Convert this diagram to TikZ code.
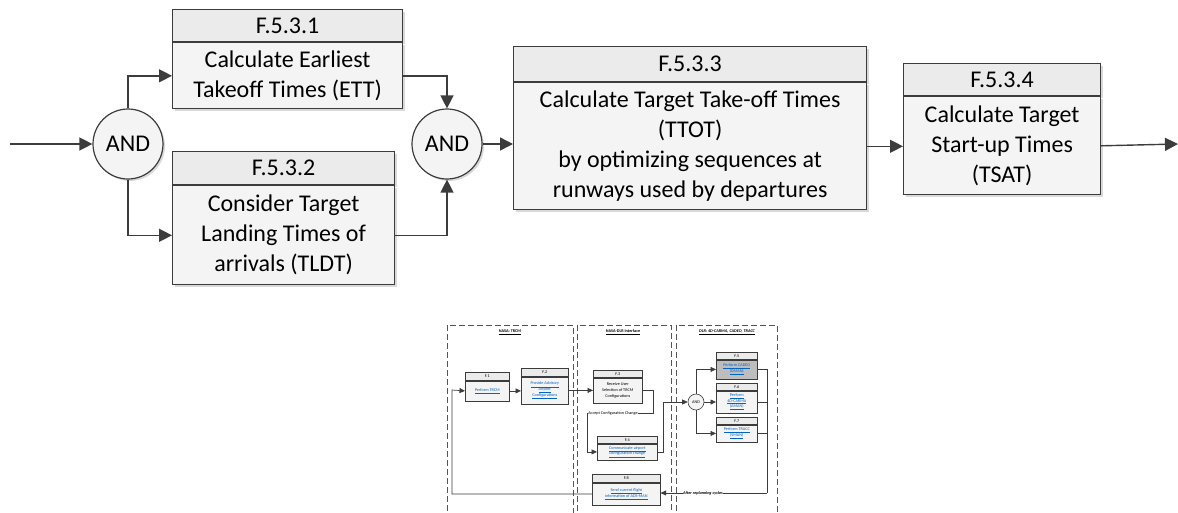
\documentclass[tikz,border=0pt]{standalone}
\usepackage{fontspec}
\setmainfont{Carlito}
\usetikzlibrary{arrows.meta,shadows,calc}
\definecolor{ln}{HTML}{3C3C3C}
\definecolor{hdrfill}{HTML}{EBEBEB}
\definecolor{bodyfill}{HTML}{F4F4F4}
\definecolor{grayfill}{HTML}{BDBDBD}
\definecolor{lnk}{HTML}{0563C1}
\definecolor{lane}{HTML}{555555}
\newcommand\ulk[1]{\underline{#1}}
\tikzset{
  x=1pt, y=-1pt,
  shd/.style={drop shadow={shadow xshift=2pt,shadow yshift=-2pt,opacity=0.3}},
  hdr/.style={draw=ln, line width=1.2pt, fill=hdrfill, anchor=north west, inner sep=0pt,
    font=\fontsize{24}{30}\selectfont, shd},
  bodybox/.style={draw=ln, line width=1.2pt, fill=bodyfill, anchor=north, inner sep=0pt,
    align=center, font=\fontsize{24}{30}\selectfont, shd},
  gate/.style={circle, draw=ln, line width=1.2pt, fill=bodyfill, minimum size=70pt, inner sep=0pt,
    font=\fontsize{24}{30}\selectfont, shd},
  conn/.style={draw=ln, line width=1.4pt, -{Triangle[length=13pt,width=13pt]}},
  shdr/.style={draw=ln, line width=0.6pt, fill=hdrfill, anchor=north west, inner sep=0pt,
    font=\fontsize{4.2}{5}\selectfont},
  sbody/.style={draw=ln, line width=0.6pt, fill=bodyfill, anchor=north, inner sep=0pt,
    align=center, font=\fontsize{4.2}{5.6}\selectfont, text=lnk},
  sgate/.style={circle, draw=ln, line width=0.6pt, fill=bodyfill, minimum size=16pt, inner sep=0pt,
    font=\fontsize{4.2}{5}\selectfont},
  sconn/.style={draw=ln, line width=0.7pt, -{Triangle[length=5.5pt,width=5pt]}},
  sline/.style={draw=ln, line width=0.7pt},
  lanebox/.style={draw=lane, line width=0.8pt, dash pattern=on 6pt off 3pt},
  lanetitle/.style={font=\fontsize{4.2}{5}\selectfont\bfseries, inner sep=0.5pt},
  slabel/.style={fill=white, inner sep=0.6pt, font=\fontsize{4.2}{5}\selectfont},
}
\begin{document}
\begin{tikzpicture}
\useasboundingbox (0,0) rectangle (1178,512);

% ---------------- top diagram ----------------
\coordinate (in) at (10,144);
\coordinate (out) at (1178,144);
\node[gate] (and1) at (128,144) {AND};
\node[gate] (and2) at (447,144) {AND};

\node[hdr, minimum width=230pt, minimum height=32pt] (b1h) at (172,9) {F.5.3.1};
\node[bodybox, minimum width=230pt, minimum height=66pt] (b1) at (b1h.south) {Calculate Earliest\\Takeoff Times (ETT)};

\node[hdr, minimum width=222pt, minimum height=33pt] (b2h) at (172,151) {F.5.3.2};
\node[bodybox, minimum width=222pt, minimum height=99pt] (b2) at (b2h.south) {Consider Target\\Landing Times of\\arrivals (TLDT)};

\node[hdr, minimum width=353pt, minimum height=35pt] (b3h) at (513,46) {F.5.3.3};
\node[bodybox, minimum width=353pt, minimum height=127pt] (b3) at (b3h.south) {Calculate Target Take-off Times\\(TTOT)\\by optimizing sequences at\\runways used by departures};

\node[hdr, minimum width=197pt, minimum height=32pt] (b4h) at (903,63) {F.5.3.4};
\node[bodybox, minimum width=197pt, minimum height=98pt] (b4) at (b4h.south) {Calculate Target\\Start-up Times\\(TSAT)};

\draw[conn] (in) -- (and1.west);
\draw[conn] (and1.north) |- (b1.west);
\draw[conn] (and1.south) |- (b2.west);
\draw[conn] (b1.east) -| (and2.north);
\draw[conn] (b2.east) -| (and2.south);
\draw[conn] (and2.east) -- (and2.east -| b3.west);
\draw[conn] (b3.east) -- (b3.east -| b4.west);
\draw[conn] (b4.east) -- (out);

% ---------------- bottom diagram ----------------
\draw[lanebox] (447,520) -- (447,325) -- (573,325) -- (573,520);
\draw[lanebox] (577,520) -- (577,325) -- (671,325) -- (671,520);
\draw[lanebox] (676,520) -- (676,325) -- (777,325) -- (777,520);
\node[lanetitle] (t1) at (510,332) {\ulk{NASA: TRCM}};
\node[lanetitle] (t2) at (623,332) {\ulk{NASA-DLR Interface}};
\node[lanetitle] (t3) at (727,332) {\itshape\ulk{DLR: 4D-CARMA, CADEO, TRACC}};

\node[shdr, minimum width=44pt, minimum height=8pt] (f1h) at (465,372) {F.1};
\node[sbody, minimum width=44pt, minimum height=20pt] (f1) at (f1h.south) {\ulk{Perform TRCM}};

\node[shdr, minimum width=47pt, minimum height=8pt] (f2h) at (521,368) {F.2};
\node[sbody, minimum width=47pt, minimum height=27pt] (f2) at (f2h.south) {\ulk{Provide Advisory}\\\ulk{Airport}\\\ulk{Configurations}};

\node[shdr, minimum width=49pt, minimum height=7pt] (f3h) at (593,370) {F.3};
\node[sbody, minimum width=49pt, minimum height=25pt, text=black] (f3) at (f3h.south) {Receive User\\Selection of TRCM\\Configurations};

\node[shdr, minimum width=60pt, minimum height=7pt] (f4h) at (597,436) {F.4};
\node[sbody, minimum width=60pt, minimum height=16pt] (f4) at (f4h.south) {\ulk{Communicate airport}\\\ulk{configuration change}};

\node[shdr, minimum width=41pt, minimum height=7pt] (f5h) at (716,352) {F.5};
\node[sbody, minimum width=41pt, minimum height=19pt, fill=grayfill] (f5) at (f5h.south) {\ulk{Perform CADEO}\\\ulk{(DMAN)}};

\node[shdr, minimum width=41pt, minimum height=7pt] (f6h) at (716,383) {F.6};
\node[sbody, minimum width=41pt, minimum height=22pt] (f6) at (f6h.south) {\ulk{Perform}\\\ulk{4D-CARMA}\\\ulk{(AMAN)}};

\node[shdr, minimum width=41pt, minimum height=7pt] (f7h) at (716,417) {F.7};
\node[sbody, minimum width=41pt, minimum height=17pt] (f7) at (f7h.south) {\ulk{Perform TRACC}\\\ulk{(SMAN)}};

\node[shdr, minimum width=68pt, minimum height=8pt] (f8h) at (592,474) {F.8};
\node[sbody, minimum width=68pt, minimum height=22pt] (f8) at (f8h.south) {\ulk{Send current flight}\\\ulk{information of ADS-MAN}};

\node[sgate] (ands) at (696,402) {AND};

\coordinate (c1) at (653,413);
\coordinate (c2) at (587,413);
\coordinate (c3) at (663,402);
\coordinate (c4) at (767,493);
\coordinate (c5) at (452,390);

\draw[sconn] (f1.east) -- (f1.east -| f2.west);
\draw[sconn] (f2.east) -- (f2.east -| f3.west);
\draw[sconn] (f3.east) -| (c1) -- (c2) |- (f4.west);
\node[slabel] (lab1) at (613,413) {Accept Configuration Change};
\draw[sconn] (f4.east) -| (c3) -- (ands.west);
\draw[sconn] (ands.north) |- (f5.west);
\draw[sconn] (ands.east) -- (ands.east -| f6.west);
\draw[sconn] (ands.south) |- (f7.west);
\draw[sline] (f5.east) -| (c4);
\draw[sline] (f6.east) -- (f6.east -| c4);
\draw[sline] (f7.east) -- (f7.east -| c4);
\draw[sconn] (c4) -- (c4 -| f8.east);
\node[slabel, font=\fontsize{4.2}{5}\selectfont\bfseries\itshape] (lab2) at (703,493) {After replanning cycles};
\draw[sconn] (f8.west) -| (c5) -- (f1.west);
\end{tikzpicture}
\end{document}
